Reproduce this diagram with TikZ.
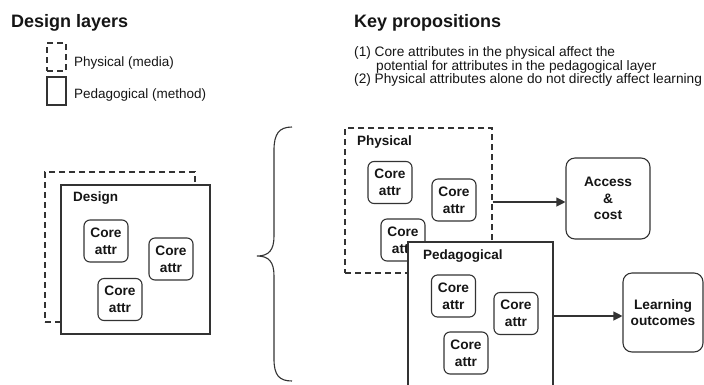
\documentclass[tikz,border=0pt]{standalone}
\usepackage{fontspec}
\setmainfont{Liberation Sans}
\usetikzlibrary{arrows.meta}
\definecolor{linec}{HTML}{333333}
\definecolor{textc}{HTML}{151515}
\tikzset{
  every node/.style={text=textc},
  body/.style={font=\fontsize{13.5}{14}\selectfont, inner sep=0pt},
  prop/.style={font=\fontsize{13.7}{14}\selectfont, inner sep=0pt},
  heading/.style={font=\fontsize{18}{20}\selectfont\bfseries, inner sep=0pt},
  boxtitle/.style={font=\fontsize{13.5}{14}\selectfont\bfseries, inner sep=0pt},
  layerdash/.style={draw=linec, line width=1.1pt, dash pattern=on 6pt off 4pt, fill=white, inner sep=0pt},
  layersolid/.style={draw=linec, line width=1.1pt, fill=white, inner sep=0pt},
  corebox/.style={draw=linec, line width=1.1pt, rounded corners=6pt, fill=white,
    minimum width=44pt, minimum height=42pt, inner sep=0pt, align=center,
    font=\fontsize{13.7}{17}\selectfont\bfseries},
  outbox/.style={draw=linec, line width=1.1pt, rounded corners=9pt, fill=white,
    inner sep=0pt, align=center, font=\fontsize{13.7}{16.5}\selectfont\bfseries},
  arr/.style={draw=linec, line width=1.1pt, -{Triangle[length=9pt,width=9pt]}},
}
\begin{document}
\begin{tikzpicture}[x=1pt,y=-1pt]
\useasboundingbox (0,0) rectangle (704,384);
\clip (0,0) rectangle (704,384);

% headings
\node[heading, anchor=base west] (h1) at (11,27) {Design layers};
\node[heading, anchor=base west] (h2) at (354,27) {Key propositions};

% legend
\node[layerdash, minimum width=19pt, minimum height=28pt] (lg1) at (56.5,57) {};
\node[body, anchor=base west] (lg1t) at (74,66) {Physical (media)};
\node[layersolid, minimum width=19pt, minimum height=28pt] (lg2) at (56.5,91) {};
\node[body, anchor=base west] (lg2t) at (74,98) {Pedagogical (method)};

% propositions
\node[prop, anchor=base west] (p1) at (354,56.5) {(1) Core attributes in the physical affect the};
\node[prop, anchor=base west] (p2) at (376,70) {potential for attributes in the pedagogical layer};
\node[prop, anchor=base west] (p3) at (354,83.5) {(2) Physical attributes alone do not directly affect learning};

% design (left)
\node[layerdash, minimum width=150pt, minimum height=150pt] (dphys) at (120,247) {};
\node[layersolid, minimum width=149pt, minimum height=149pt] (dped) at (135.5,259.5) {};
\node[boxtitle, anchor=west] (dtitle) at (73,198.5) {Design};
\node[corebox] (dc1) at (106,241) {Core\\attr};
\node[corebox] (dc2) at (171,259) {Core\\attr};
\node[corebox] (dc3) at (120,299.5) {Core\\attr};

% brace
\draw[draw=linec, line width=1.1pt] (292,127) .. controls (279,127) and (274,134) .. (274,150)
  -- (274,236) .. controls (274,250) and (269,256) .. (257,256)
  .. controls (269,256) and (274,262) .. (274,276)
  -- (274,359) .. controls (274,375) and (279,381) .. (292,381);

% physical layer (right)
\node[layerdash, minimum width=147pt, minimum height=145pt] (phys) at (418.5,200.5) {};
\node[boxtitle, anchor=west] (ptitle) at (357,142) {Physical};
\node[corebox] (pc1) at (390,182.5) {Core\\attr};
\node[corebox] (pc2) at (454,200) {Core\\attr};
\node[corebox] (pc3) at (403,240) {Core\\attr};

% pedagogical layer (right)
\node[layersolid, minimum width=145pt, minimum height=160pt] (ped) at (480.5,322) {};
\node[boxtitle, anchor=west] (edtitle) at (423,256) {Pedagogical};
\node[corebox] (ec1) at (453.5,296) {Core\\attr};
\node[corebox] (ec2) at (516,313.5) {Core\\attr};
\node[corebox] (ec3) at (466,353) {Core\\attr};

% outcomes
\node[outbox, minimum width=84pt, minimum height=81pt] (ac) at (608,198.5) {Access\\\&\\cost};
\node[outbox, minimum width=80pt, minimum height=79pt] (lo) at (663,312.5) {Learning\\outcomes};

\draw[arr] (phys.east |- 0,202) -- (ac.west |- 0,202);
\draw[arr] (ped.east |- 0,316) -- (lo.west |- 0,316);
\end{tikzpicture}
\end{document}
